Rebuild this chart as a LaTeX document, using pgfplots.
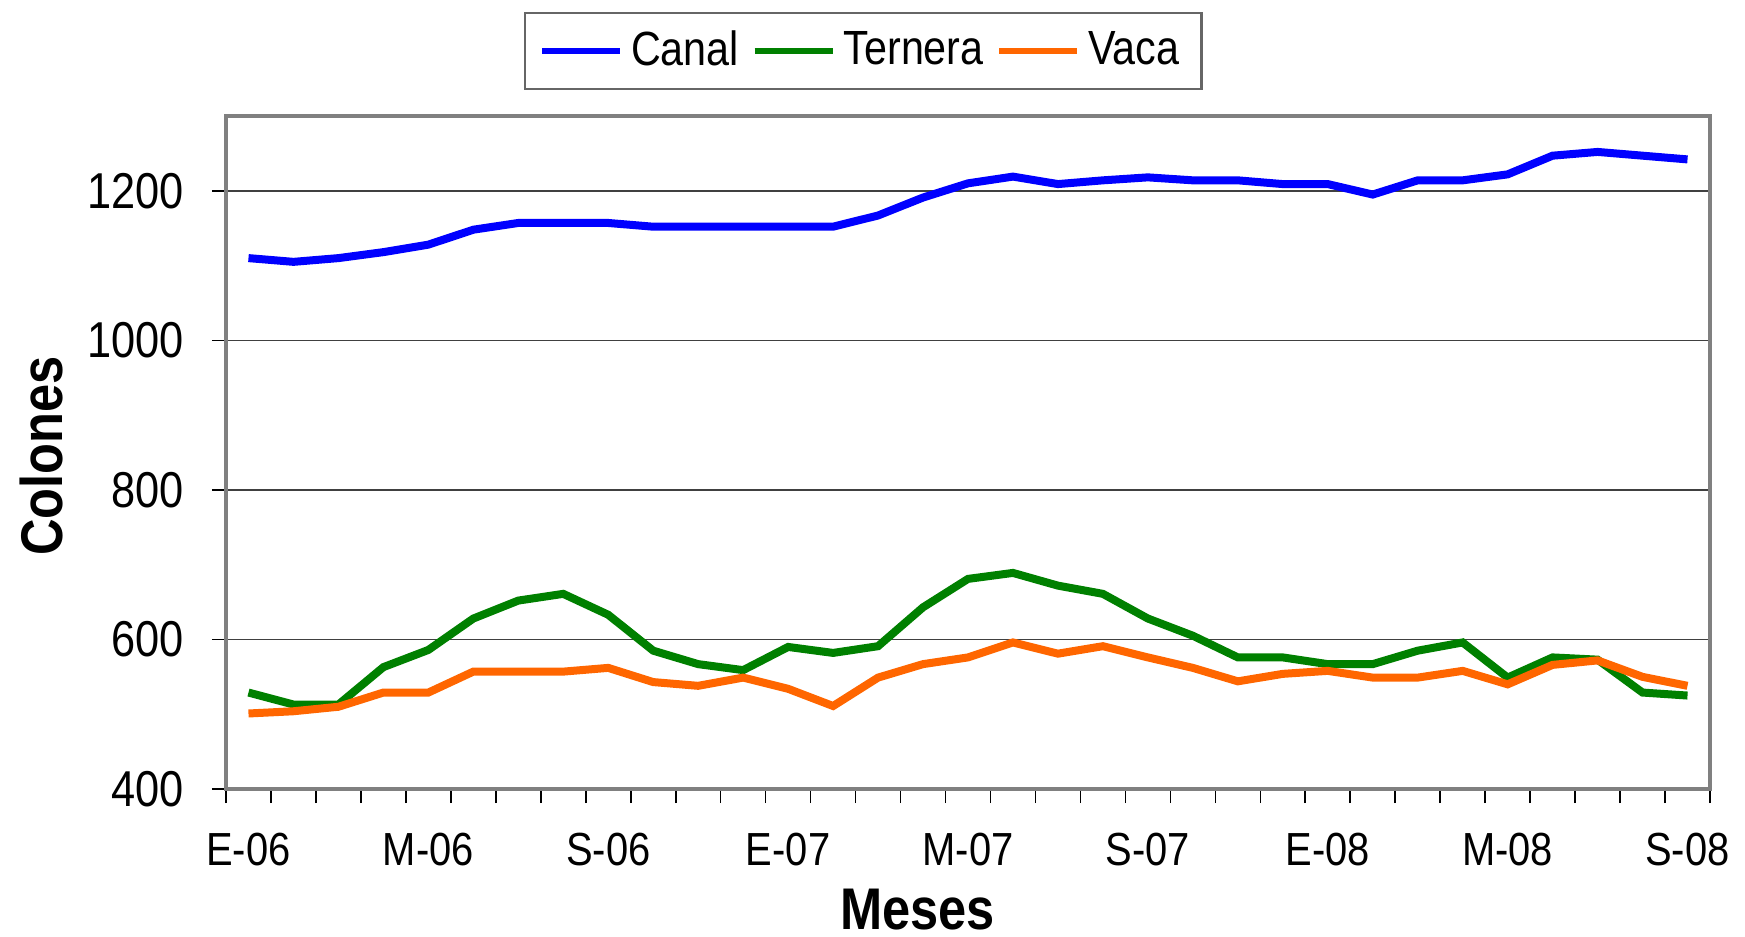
\documentclass[border=0pt]{standalone}
\usepackage{fontspec}
\setmainfont[FakeStretch=0.86]{Liberation Sans}
\usepackage{pgfplots}
\pgfplotsset{compat=1.18}
\definecolor{cblue}{RGB}{0,0,255}
\definecolor{cgreen}{RGB}{0,128,0}
\definecolor{corange}{RGB}{255,102,0}
\begin{document}
\begin{tikzpicture}
\path[use as bounding box] (0,0) rectangle (436.25pt,234pt);
\begin{axis}[
  at={(56.5pt,36.75pt)}, anchor=south west, scale only axis,
  width=371pt, height=168.25pt,
  xmin=-0.5, xmax=32.5, ymin=400, ymax=1300,
  xtick={0,4,...,32},
  xticklabels={E-06,M-06,S-06,E-07,M-07,S-07,E-08,M-08,S-08},
  minor xtick={-0.5,0.5,...,32.5},
  ytick={400,600,...,1200}, minor ytick={400,600,...,1200},
  xtick pos=bottom, ytick pos=left,
  major tick length=0pt, minor tick length=3.5pt, tick align=outside,
  ymajorgrids, major grid style={black!75, line width=0.4pt},
  axis line style={draw=black!50, line width=0.9pt},
  minor tick style={black, line width=0.4pt},
  /pgf/number format/assume math mode=true,
  scaled y ticks=false,
  yticklabel style={font=\fontsize{12.6}{14}\selectfont, xshift=-7pt, /pgf/number format/1000 sep={}},
  xticklabel style={font=\fontsize{11.6}{13}\selectfont, yshift=-7.5pt},
  legend columns=3,
  legend style={at={(0.4294,1.0966)}, anchor=center, draw=black!60, line width=0.6pt,
    font=\fontsize{12}{14}\selectfont, inner xsep=3.5pt, inner ysep=2.4pt,
    /tikz/every even column/.append style={column sep=1.2pt}},
  legend image code/.code={\draw[#1,line width=1.5pt] (0pt,0pt) -- (19.5pt,0pt);},
]
\addplot[cblue, line width=2pt] coordinates {
(0,1110) (1,1105) (2,1110) (3,1118) (4,1128) (5,1148) (6,1157) (7,1157) (8,1157)
(9,1152) (10,1152) (11,1152) (12,1152) (13,1152) (14,1167) (15,1191) (16,1210)
(17,1219) (18,1209) (19,1214) (20,1218) (21,1214) (22,1214) (23,1209) (24,1209)
(25,1195) (26,1214) (27,1214) (28,1222) (29,1247) (30,1252) (31,1247) (32,1242)};
\addlegendentry{Canal}
\addplot[cgreen, line width=2pt] coordinates {
(0,529) (1,513) (2,513) (3,563) (4,586) (5,628) (6,652) (7,661) (8,633)
(9,585) (10,567) (11,559) (12,590) (13,582) (14,591) (15,643) (16,681)
(17,689) (18,672) (19,661) (20,628) (21,605) (22,576) (23,576) (24,567)
(25,567) (26,585) (27,596) (28,549) (29,576) (30,573) (31,529) (32,525)};
\addlegendentry{Ternera}
\addplot[corange, line width=2pt] coordinates {
(0,501) (1,504) (2,510) (3,529) (4,529) (5,557) (6,557) (7,557) (8,562)
(9,543) (10,538) (11,549) (12,534) (13,511) (14,549) (15,567) (16,576)
(17,596) (18,581) (19,591) (20,576) (21,562) (22,544) (23,554) (24,558)
(25,549) (26,549) (27,558) (28,540) (29,566) (30,572) (31,550) (32,538)};
\addlegendentry{Vaca}
\end{axis}
\node[rotate=90, font=\bfseries\fontsize{14.7}{17}\selectfont] at (10.4pt,120pt) {Colones};
\node[font=\bfseries\fontsize{14.7}{17}\selectfont] at (229.4pt,6.6pt) {Meses};
\end{tikzpicture}
\end{document}
